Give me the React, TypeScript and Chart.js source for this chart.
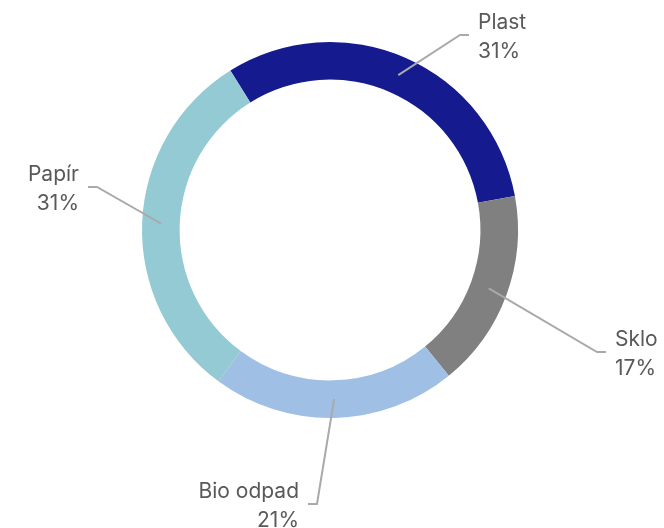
import React, { useEffect, useRef } from "react";
import { Chart, registerables } from "chart.js";

Chart.register(...registerables);

const categories = ["Plast", "Sklo", "Bio odpad", "Papír"];
const shares = [31, 17, 21, 31];
const colors = ["#151A8E", "#808080", "#A0BFE4", "#93CAD3"];

// label elbow offsets from the doughnut centre (layout only)
const labelLayout = [
  { dx: 130, dy: -195, side: 1 },
  { dx: 267, dy: 122, side: 1 },
  { dx: -13, dy: 274, side: -1 },
  { dx: -233, dy: -43, side: -1 },
];

const leaderPlugin = {
  id: "leaderLabels",
  afterDatasetsDraw(chart: any) {
    const ctx = chart.ctx as CanvasRenderingContext2D;
    const meta = chart.getDatasetMeta(0);
    const data = chart.data.datasets[0].data as number[];
    const total = data.reduce((a, b) => a + b, 0);
    ctx.save();
    meta.data.forEach((arc: any, i: number) => {
      const { x, y, startAngle, endAngle, innerRadius, outerRadius } = arc.getProps(
        ["x", "y", "startAngle", "endAngle", "innerRadius", "outerRadius"],
        true
      );
      const mid = (startAngle + endAngle) / 2;
      const r = (innerRadius + outerRadius) / 2;
      const px = x + Math.cos(mid) * r;
      const py = y + Math.sin(mid) * r;
      const L = labelLayout[i];
      const ex = x + L.dx;
      const ey = y + L.dy;
      const hx = ex + L.side * 9;
      ctx.strokeStyle = "#A9A9A9";
      ctx.lineWidth = 2;
      ctx.beginPath();
      ctx.moveTo(px, py);
      ctx.lineTo(ex, ey);
      ctx.lineTo(hx, ey);
      ctx.stroke();
      ctx.fillStyle = "#595959";
      ctx.font = "21px Inter, sans-serif";
      ctx.textBaseline = "middle";
      ctx.textAlign = L.side > 0 ? "left" : "right";
      const tx = hx + L.side * 9;
      const pct = Math.round((data[i] / total) * 100) + "%";
      ctx.fillText(String(chart.data.labels[i]), tx, ey - 12.5);
      ctx.fillText(pct, tx, ey + 16.5);
    });
    ctx.restore();
  },
};

export default function App() {
  const ref = useRef<HTMLCanvasElement>(null);
  useEffect(() => {
    if (!ref.current) return;
    const chart = new Chart(ref.current, {
      type: "doughnut",
      data: {
        labels: categories,
        datasets: [
          {
            data: shares,
            backgroundColor: colors,
            borderWidth: 0,
          },
        ],
      },
      options: {
        responsive: false,
        animation: false,
        rotation: -32,
        cutout: "80%",
        layout: { padding: { top: 42, bottom: 110, left: 142, right: 146 } },
        plugins: {
          legend: { display: false },
          tooltip: { enabled: false },
        },
      },
      plugins: [leaderPlugin],
    });
    return () => chart.destroy();
  }, []);
  return (
    <div style={{ position: "fixed", left: 0, top: 0, width: 664, height: 528, background: "#fff" }}>
      <canvas ref={ref} width={664} height={528} style={{ width: 664, height: 528 }} />
    </div>
  );
}
